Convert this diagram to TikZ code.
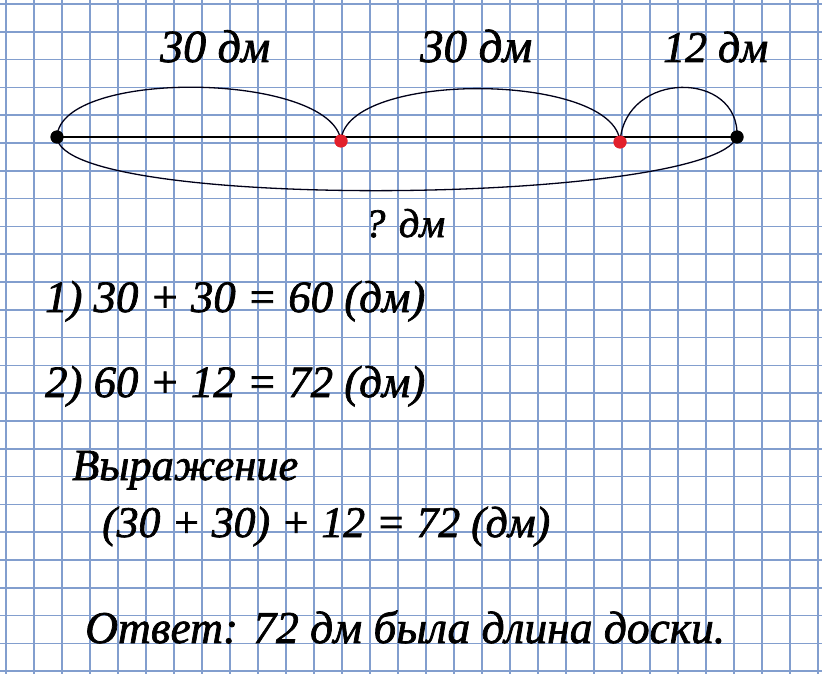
\documentclass[tikz,border=0pt]{standalone}
\usepackage{fontspec}
\setmainfont{Liberation Serif}
\newfontfamily\handfont{Liberation Serif}[ItalicFeatures={FakeBold=1.6}]
\usepackage{graphicx}
\definecolor{gridblue}{RGB}{130,158,206}
\definecolor{dotred}{RGB}{226,32,44}
\tikzset{
  gridline/.style={draw=gridblue, line width=1.5pt},
  seg/.style={draw=black, line width=1.7pt},
  arcline/.style={draw=black!90!blue, line width=1.3pt},
  dotblack/.style={circle, fill=black, inner sep=0pt, minimum size=13pt},
  dotred/.style={circle, fill=dotred, inner sep=0pt, minimum size=13pt},
  hand/.style={anchor=base west, inner sep=0pt}
}
\newcommand{\hw}[2]{\resizebox{#1}{!}{\handfont\itshape #2}}
\begin{document}
\begin{tikzpicture}[x=1pt,y=-1pt]
\useasboundingbox (0,0) rectangle (822,674);
\fill[white] (0,0) rectangle (822,674);
% grid
\foreach \k in {0,...,29} \draw[gridline] ({6+28*\k},0) -- ({6+28*\k},674);
\foreach \k in {0,...,24} \draw[gridline] (0,{4+27.8*\k}) -- (822,{4+27.8*\k});
% points
\node[dotblack] (A) at (57,137) {};
\node[dotred] (B) at (341,141) {};
\node[dotred] (C) at (620,142) {};
\node[dotblack] (D) at (737,137) {};
% main segment
\draw[seg] (A.center) -- (D.center);
% arcs
\draw[arcline] (A.center) .. controls (60,68) and (332,72) .. (B.center);
\draw[arcline] (B.center) .. controls (345,70) and (615,72) .. (C.center);
\draw[arcline] (C.center) .. controls (625,70) and (740,70) .. (D.center);
\draw[arcline] (A.center) .. controls (60,212) and (710,205) .. (D.center);
% dots on top again
\node[dotred] at (B) {};
\node[dotred] at (C) {};
\node[dotblack] at (A) {};
\node[dotblack] at (D) {};
% labels
\node[hand] (l1) at (160,62) {\hw{110pt}{30 дм}};
\node[hand] (l2) at (420,62) {\hw{112pt}{30 дм}};
\node[hand] (l3) at (663,62) {\hw{105pt}{12 дм}};
\node[hand] (l4) at (365,237) {\hw{80pt}{? дм}};
\node[hand] (s1) at (45,312) {\hw{380pt}{1) 30 + 30 = 60 (дм)}};
\node[hand] (s2) at (45,397) {\hw{380pt}{2) 60 + 12 = 72 (дм)}};
\node[hand] (ex) at (72,480) {\hw{226pt}{Выражение}};
\node[hand] (ev) at (102,537) {\hw{448pt}{(30 + 30) + 12 = 72 (дм)}};
\node[hand] (an) at (85,643) {\hw{640pt}{Ответ: 72 дм была длина доски.}};
\end{tikzpicture}
\end{document}
